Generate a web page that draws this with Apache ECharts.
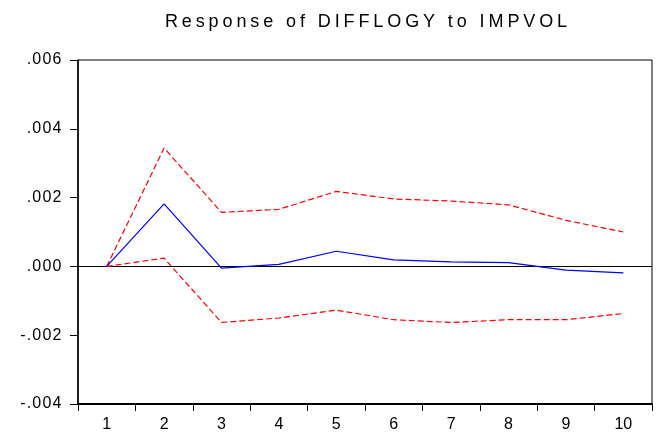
<!DOCTYPE html>
<html>
<head>
<meta charset="utf-8">
<script src="https://cdn.jsdelivr.net/npm/echarts@6/dist/echarts.min.js"></script>
<style>
  html, body { margin: 0; padding: 0; background: #fff; }
  #chart { width: 660px; height: 441px; }
</style>
</head>
<body>
<div id="chart"></div>
<script>
// Impulse response of DIFFLOGY to a shock in IMPVOL, with +/- 2 S.E. bands
const periods = ['1', '2', '3', '4', '5', '6', '7', '8', '9', '10'];
const response = [0.0, 0.00182, -0.00005, 0.00006, 0.00044, 0.00019, 0.00013, 0.00011, -0.00011, -0.00019];
const upperBand = [0.0, 0.00344, 0.00157, 0.00166, 0.00218, 0.00196, 0.00190, 0.00179, 0.00134, 0.00100];
const lowerBand = [0.0, 0.00024, -0.00163, -0.00150, -0.00127, -0.00155, -0.00163, -0.00155, -0.00155, -0.00137];
const titleText = 'Response of DIFFLOGY to IMPVOL';

const FONT = '"Liberation Sans", Arial, sans-serif';

// Spread letters out, in the style of the EViews graph text
function spaced(str, style) {
  return str.split('').map(ch => '{' + style + '|' + ch + '}').join('');
}

const chart = echarts.init(document.getElementById('chart'), null, { renderer: 'canvas' });

const dashed = { type: [6, 3], width: 1.2, color: '#ff0000' };

chart.setOption({
  backgroundColor: '#ffffff',
  animation: false,
  title: {
    text: spaced(titleText, 'c'),
    left: 361,
    top: 8,
    textAlign: 'center',
    textStyle: {
      fontFamily: FONT,
      fontSize: 18,
      fontWeight: 'normal',
      color: '#000',
      rich: {
        c: { fontFamily: FONT, fontSize: 18, color: '#000', padding: [0, 1.95, 0, 1.95] }
      }
    }
  },
  grid: {
    left: 78, right: 8, top: 60, bottom: 37,
    show: true, borderColor: '#000', borderWidth: 1, backgroundColor: 'transparent'
  },
  xAxis: {
    type: 'category',
    data: periods,
    boundaryGap: true,
    axisLine: { show: true, onZero: false, lineStyle: { color: '#000', width: 2 } },
    axisTick: { show: true, interval: 0, alignWithLabel: false, length: 7, lineStyle: { color: '#000', width: 1 } },
    axisLabel: {
      interval: 0,
      color: '#000', fontFamily: FONT, fontSize: 16, margin: 13
    },
    splitLine: { show: false }
  },
  yAxis: {
    type: 'value',
    min: -0.004,
    max: 0.006,
    interval: 0.002,
    axisLine: { show: true, lineStyle: { color: '#000', width: 1.5 } },
    axisTick: { show: true, length: 8, lineStyle: { color: '#000', width: 1 } },
    axisLabel: {
      color: '#000', fontFamily: FONT, fontSize: 16, margin: 16,
      formatter: v => spaced(v.toFixed(3).replace('0.', '.'), 'd'),
      rich: { d: { fontFamily: FONT, fontSize: 16, color: '#000', padding: [0, 0.6, 0, 0.6] } }
    },
    splitLine: { show: false }
  },
  series: [
    {
      name: 'Upper',
      type: 'line',
      data: upperBand,
      symbol: 'none',
      lineStyle: dashed,
      z: 3
    },
    {
      name: 'Lower',
      type: 'line',
      data: lowerBand,
      symbol: 'none',
      lineStyle: dashed,
      z: 3
    },
    {
      name: 'Response',
      type: 'line',
      data: response,
      symbol: 'none',
      lineStyle: { color: '#0000ff', width: 1.2 },
      z: 4,
      markLine: {
        silent: true,
        symbol: 'none',
        label: { show: false },
        lineStyle: { color: '#000', width: 1, type: 'solid' },
        data: [{ yAxis: 0 }],
        z: 2
      }
    }
  ]
});
</script>
</body>
</html>
